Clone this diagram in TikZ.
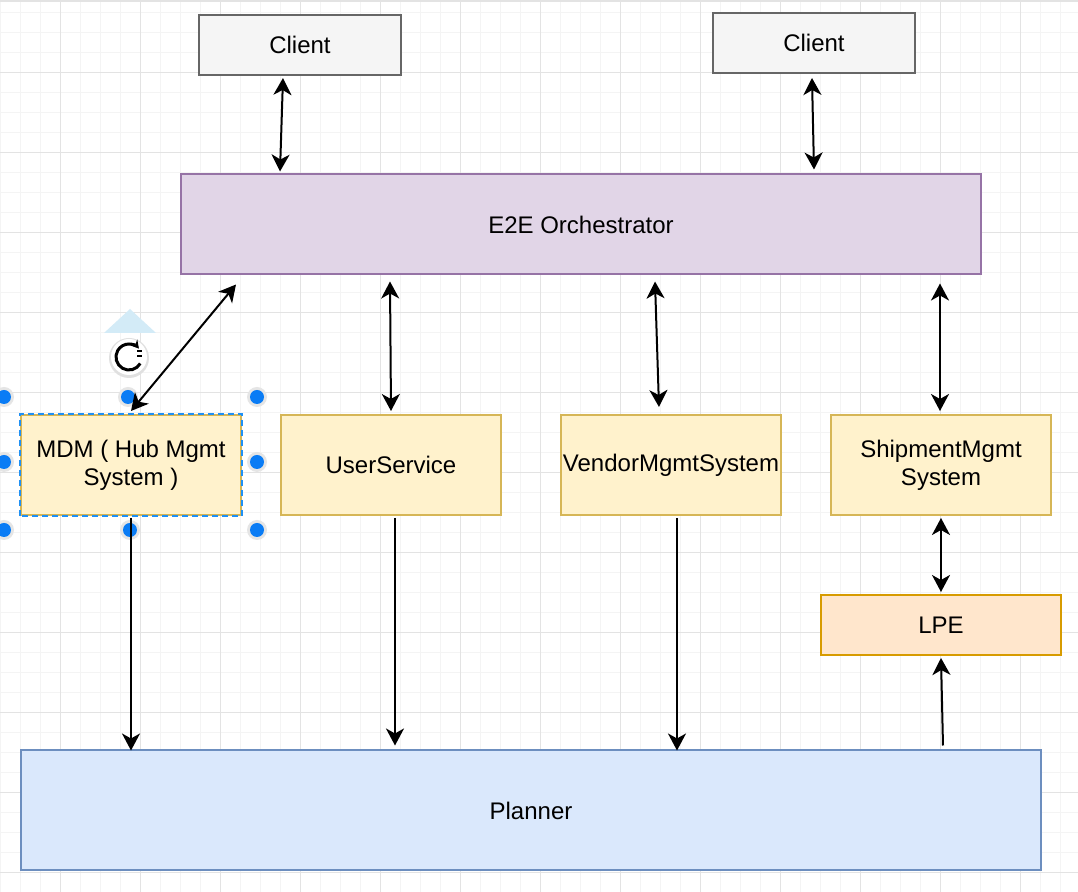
\documentclass[tikz,border=0pt]{standalone}
\usepackage{fontspec}
\setmainfont{Liberation Sans}
\usepackage{xcolor}
\usetikzlibrary{positioning,arrows.meta,calc}

\definecolor{clientfill}{HTML}{F5F5F5}
\definecolor{clientline}{HTML}{666666}
\definecolor{orchfill}{HTML}{E1D5E7}
\definecolor{orchline}{HTML}{9673A6}
\definecolor{svcfill}{HTML}{FFF2CC}
\definecolor{svcline}{HTML}{D6B656}
\definecolor{lpefill}{HTML}{FFE6CC}
\definecolor{lpeline}{HTML}{D79B00}
\definecolor{planfill}{HTML}{DAE8FC}
\definecolor{planline}{HTML}{6C8EBF}
\definecolor{gridminor}{HTML}{F4F4F4}
\definecolor{gridmajor}{HTML}{E3E3E3}
\definecolor{selblue}{HTML}{1E90F5}
\definecolor{handleblue}{HTML}{0A7CF5}
\definecolor{tripale}{HTML}{D3EBF7}

\begin{document}
\begin{tikzpicture}[
x=0.5pt, y=-0.5pt,
box/.style={draw, line width=1pt, minimum height=50pt, align=center, inner sep=0pt, font=\fontsize{12}{14}\selectfont},
client/.style={box, draw=clientline, fill=clientfill, minimum width=101pt, minimum height=30pt},
orch/.style={box, draw=orchline, fill=orchfill, minimum width=400pt},
svc/.style={box, draw=svcline, fill=svcfill, minimum width=110pt},
lpebox/.style={box, draw=lpeline, fill=lpefill, minimum width=120pt, minimum height=30pt},
plan/.style={box, draw=planline, fill=planfill, minimum width=510pt, minimum height=60pt},
arrow/.style={-{Stealth[length=8.5pt, width=9pt, inset=2.5pt]}, line width=1pt},
both/.style={{Stealth[length=8.5pt, width=9pt, inset=2.5pt]}-{Stealth[length=8.5pt, width=9pt, inset=2.5pt]}, line width=1pt}
]
\useasboundingbox (0,0) rectangle (1078,892);
\fill[white] (0,0) rectangle (1078,892);
% grid
\foreach \x in {0,20,...,1078} \draw[gridminor, line width=0.5pt] (\x,0) -- (\x,892);
\foreach \y in {13,33,...,892} \draw[gridminor, line width=0.5pt] (0,\y) -- (1078,\y);
\foreach \x in {60,140,...,1078} \draw[gridmajor, line width=0.5pt] (\x,0) -- (\x,892);
\foreach \y in {73,153,...,892} \draw[gridmajor, line width=0.5pt] (0,\y) -- (1078,\y);
\fill[gridmajor] (0,0) rectangle (1078,2);

\node[client] (client1) at (300,45) {Client};
\node[client] (client2) at (814,43) {Client};
\node[orch] (e2e) at (581,224.5) {E2E Orchestrator};
\node[svc] (mdm) at (131,465) {MDM ( Hub Mgmt\\System )};
\node[svc] (user) at (391,465) {UserService};
\node[svc] (vendor) at (671,465) {VendorMgmtSystem};
\node[svc] (ship) at (941,465) {ShipmentMgmt\\System};
\node[lpebox, below=39pt of ship] (lpe) {LPE};
\node[plan] (planner) at (531,810.5) {Planner};

% selected box
\draw[selblue, line width=0.8pt, dash pattern=on 3pt off 2pt] (mdm.south west) rectangle (mdm.north east);
\fill[tripale] (130,309) -- (156,333) -- (104,333) -- cycle;
\fill[black!12] (129,358) circle (10pt);
\fill[white] (129,357) circle (9pt);
\draw[line width=1.5pt, -{Stealth[length=4pt, width=4.5pt]}] ([shift={(-30:6.5pt)}]129,357) arc (-30:-320:6.5pt);
\draw[line width=0.9pt] (137,351) -- (142,351) (137,356) -- (142,356);
\foreach \p in {(4,397),(128,397),(257,397),(4,462),(257,462),(4,530),(130,530),(257,530)} {
  \fill[black!10] \p circle (5pt);
  \fill[handleblue] \p circle (3.5pt);
}

% connectors
\draw[both] ($(client1.south)+(-17,2)$) -- ($(e2e.north)+(-301,-2)$);
\draw[both] ($(client2.south)+(-2,4)$) -- ($(e2e.north)+(233,-4)$);
\draw[both] ($(e2e.south)+(-345,9)$) -- ($(mdm.north)+(0,-3)$);
\draw[both] ($(e2e.south)+(-191,6)$) -- ($(user.north)+(0,-3)$);
\draw[both] ($(e2e.south)+(74,6)$) -- ($(vendor.north)+(-12,-7)$);
\draw[both] ($(e2e.south)+(359,8)$) -- ($(ship.north)+(-1,-3)$);
\draw[both] ($(ship.south)+(0,2)$) -- ($(lpe.north)+(0,-2)$);
\draw[arrow] ($(mdm.south)+(0,2)$) -- ($(planner.north)+(-400,1)$);
\draw[arrow] ($(user.south)+(4,2)$) -- ($(planner.north)+(-136,-4)$);
\draw[arrow] ($(vendor.south)+(6,2)$) -- ($(planner.north)+(146,1)$);
\draw[arrow] ($(planner.north)+(412,-4)$) -- ($(lpe.south)+(0,2)$);
\end{tikzpicture}
\end{document}
